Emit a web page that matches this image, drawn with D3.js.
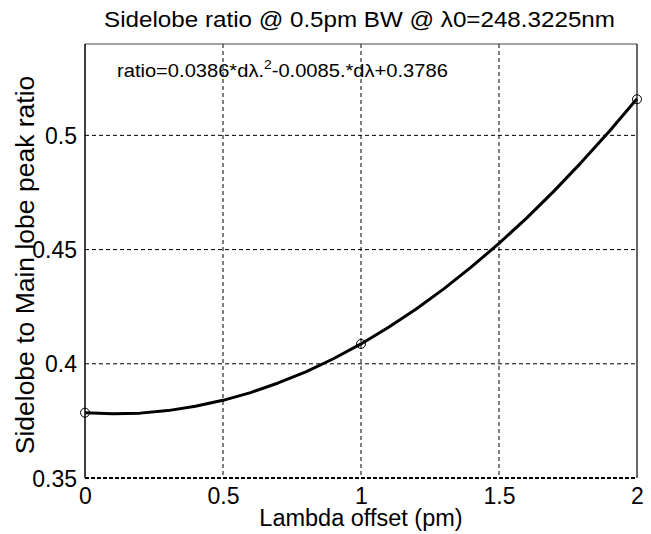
<!DOCTYPE html>
<html><head><meta charset="utf-8">
<script src="https://cdn.jsdelivr.net/npm/d3@7"></script>
<style>body{margin:0;background:#fff}svg{display:block}text{font-family:"Liberation Sans",Arial,sans-serif;fill:#000}</style>
</head><body>
<script>
// Data
const measuredX = [0, 1, 2];
const measuredY = [0.3786, 0.4087, 0.5158];
const fitX = [0,0.1,0.2,0.3,0.4,0.5,0.6,0.7,0.8,0.9,1.0,1.1,1.2,1.3,1.4,1.5,1.6,1.7,1.8,1.9,2.0];
const fitY = [0.3786,0.3781,0.3784,0.3795,0.3814,0.3840,0.3874,0.3916,0.3965,0.4022,0.4087,0.4160,0.4240,0.4328,0.4424,0.4527,0.4638,0.4757,0.4884,0.5018,0.5160];
const xTicks = [0, 0.5, 1, 1.5, 2];
const yTicks = [0.35, 0.4, 0.45, 0.5];
const xDomain = [0, 2];
const yDomain = [0.35, 0.54];
const titleText = "Sidelobe ratio @ 0.5pm BW @ λ0=248.3225nm";
const xLabel = "Lambda offset (pm)";
const yLabel = "Sidelobe to Main lobe peak ratio";

const W = 651, H = 534;
const L = 85, R = 637, T = 44, B = 478;
const svg = d3.select("body").append("svg").attr("width", W).attr("height", H);
const x = d3.scaleLinear().domain(xDomain).range([L, R]);
const y = d3.scaleLinear().domain(yDomain).range([B, T]);

// grid
const g = svg.append("g");
g.selectAll(".gx").data(xTicks.filter(d => d > 0 && d < 2)).join("line")
  .attr("x1", d => x(d)).attr("x2", d => x(d)).attr("y1", T).attr("y2", B)
  .attr("stroke", "#000").attr("stroke-width", 1).attr("stroke-dasharray", "4,3");
g.selectAll(".gy").data(yTicks.filter(d => d > 0.35)).join("line")
  .attr("y1", d => y(d)).attr("y2", d => y(d)).attr("x1", L).attr("x2", R)
  .attr("stroke", "#000").attr("stroke-width", 1).attr("stroke-dasharray", "4,3");

// frame
svg.append("line").attr("x1", L).attr("x2", R).attr("y1", T).attr("y2", T).attr("stroke", "#444").attr("stroke-width", 1);
svg.append("line").attr("x1", R).attr("x2", R).attr("y1", T).attr("y2", B).attr("stroke", "#000").attr("stroke-width", 1.2);
svg.append("line").attr("x1", L).attr("x2", L).attr("y1", T).attr("y2", B).attr("stroke", "#000").attr("stroke-width", 1.5);
svg.append("line").attr("x1", L).attr("x2", R).attr("y1", B).attr("y2", B).attr("stroke", "#000").attr("stroke-width", 2).attr("stroke-dasharray", "4,2");

// axes via d3 axis (labels only, ticks hidden)
const xa = svg.append("g").attr("transform", `translate(0,${B})`)
  .call(d3.axisBottom(x).tickValues(xTicks).tickFormat(d3.format("")).tickSize(0).tickPadding(26));
xa.select(".domain").remove();
xa.selectAll("text").attr("font-size", 23).attr("font-family", "Liberation Sans, Arial, sans-serif").attr("fill", "#000").attr("dy", 0);
const ya = svg.append("g").attr("transform", `translate(${L},0)`)
  .call(d3.axisLeft(y).tickValues(yTicks).tickFormat(d3.format("")).tickSize(0).tickPadding(8));
ya.select(".domain").remove();
ya.selectAll("text").attr("font-size", 23).attr("font-family", "Liberation Sans, Arial, sans-serif").attr("fill", "#000").attr("dy", "0.35em");

// curve
const pts = fitX.map((d, i) => [d, fitY[i]]);
svg.append("path").datum(pts)
  .attr("d", d3.line().x(d => x(d[0])).y(d => y(d[1])))
  .attr("fill", "none").attr("stroke", "#000").attr("stroke-width", 3).attr("stroke-linejoin", "round");

// markers
svg.selectAll(".m").data(measuredX.map((d, i) => [d, measuredY[i]])).join("circle")
  .attr("cx", d => x(d[0])).attr("cy", d => y(d[1])).attr("r", 4.5)
  .attr("fill", "none").attr("stroke", "#000").attr("stroke-width", 1);

// title
svg.append("g").attr("transform", `translate(${(103 + 616) / 2},27) scale(1.1,1)`)
  .append("text").attr("text-anchor", "middle").attr("font-size", 22).text(titleText);
// x label
svg.append("text").attr("x", x(1)).attr("y", 526).attr("text-anchor", "middle")
  .attr("font-size", 23.5).text(xLabel);
// y label
svg.append("text").attr("transform", `translate(34,265) rotate(-90)`).attr("text-anchor", "middle")
  .attr("font-size", 26.5).text(yLabel);

// annotation
const ann = svg.append("g").attr("transform", "translate(117,77) scale(1.15,1)")
  .append("text").attr("font-size", 17.5);
ann.append("tspan").text("ratio=0.0386*dλ.");
ann.append("tspan").attr("font-size", 12).attr("dy", -8).text("2");
ann.append("tspan").attr("dy", 8).text("-0.0085.*dλ+0.3786");
</script>
</body></html>
